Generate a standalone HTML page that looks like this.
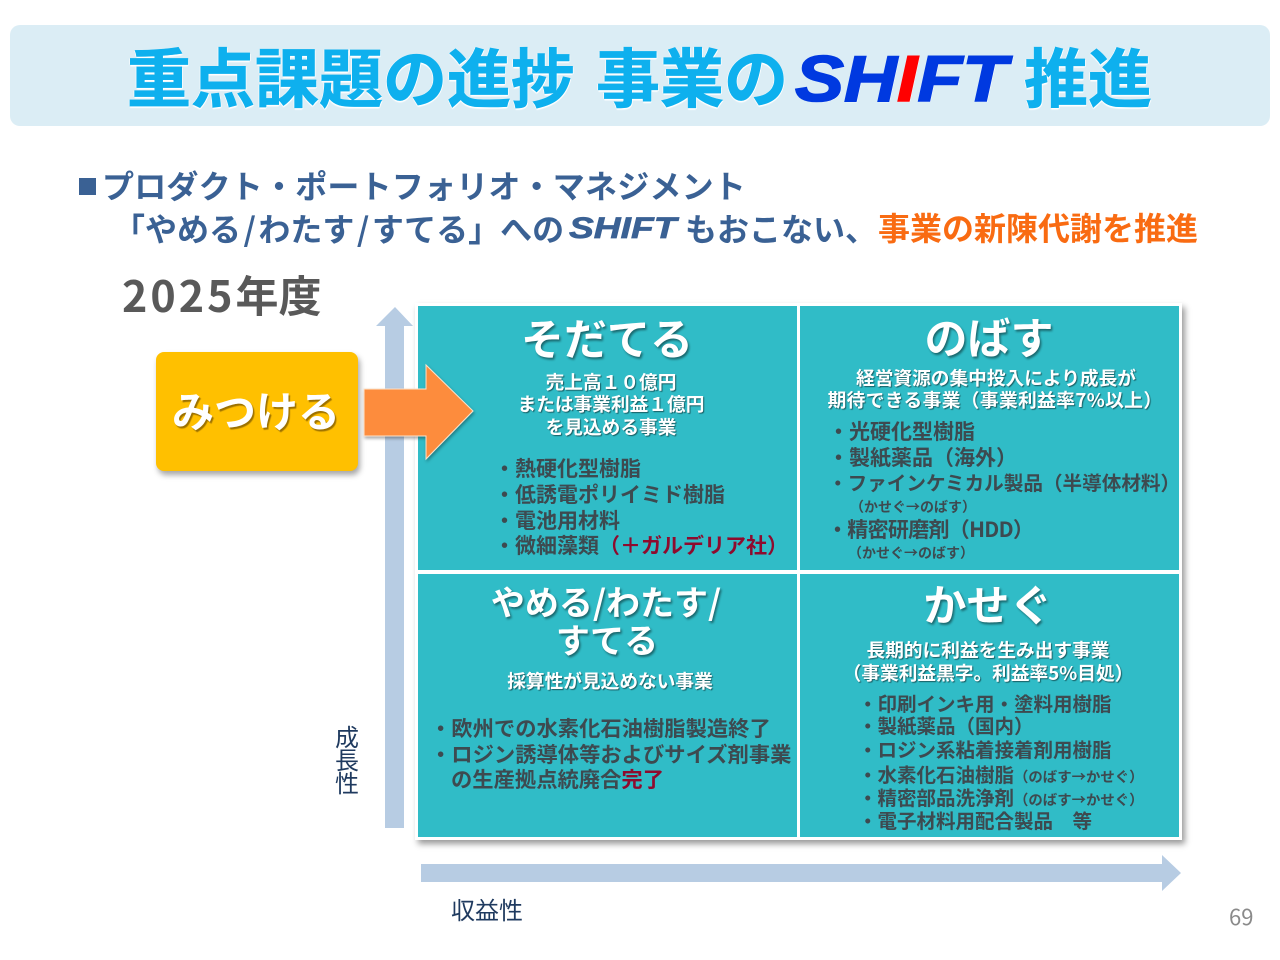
<!DOCTYPE html>
<html lang="ja"><head><meta charset="utf-8">
<style>
html,body{margin:0;padding:0;background:#fff}
#p{position:relative;width:1280px;height:960px;overflow:hidden;background:#fff;font-family:"Liberation Sans","Noto Sans CJK JP",sans-serif}
.t{position:absolute;white-space:nowrap;line-height:1;font-family:"Noto Sans CJK JP",sans-serif;font-weight:700}
.c{transform:translateX(-50%)}
.box{position:absolute;background:#30bcc7}
.h{font-size:64px;color:#0eb0ee;-webkit-text-stroke:.7px #0eb0ee;text-shadow:1px 1px 0 #fff,-1px 0 0 #fff,0 2px 1px #fff}
.s{font-size:32px;color:#3a6194;font-weight:700}
.w{color:#fff;font-weight:700;text-shadow:1.5px 2px 2px rgba(0,0,0,.45)}
.b{font-size:18.7px;color:#fff;font-weight:700;text-shadow:1px 1px 1px rgba(0,0,0,.5)}
.i{color:#3d4a50;font-weight:700}
.r{color:#8e0b2e}
.sm{font-weight:700}
.sl{margin:0 2.5px}
</style></head><body><div id="p">

<div style="position:absolute;left:10px;top:25px;width:1260px;height:101px;background:#dbedf5;border-radius:10px"></div>
<div class="t h" style="left:127px;top:43px">重点課題の進捗</div>
<div class="t h" style="left:596px;top:43px">事業の</div>
<div class="t" style="left:795px;top:46px;font:italic 700 65px/1 'Liberation Sans',sans-serif;color:#0039e0;-webkit-text-stroke:1.6px #0039e0;transform:scaleX(1.13);transform-origin:left;text-shadow:1px 1px 0 #fff">SH<span style="color:#f00;-webkit-text-stroke:1.6px #f00">I</span>FT</div>
<div class="t h" style="left:1024px;top:43px">推進</div>

<div style="position:absolute;left:79px;top:178px;width:17px;height:17px;background:#3a6194"></div>
<div class="t s" style="left:102px;top:169px;letter-spacing:.2px">プロダクト・ポートフォリオ・マネジメント</div>
<div class="t s" style="left:113px;top:212px">「やめる<span class="sl">/</span>わたす<span class="sl">/</span>すてる」への</div>
<div class="t" style="left:569px;top:214px;font:italic 700 30px/1 'Liberation Sans',sans-serif;color:#3a6194;-webkit-text-stroke:.7px #3a6194;transform:scaleX(1.24);transform-origin:left">SHIFT</div>
<div class="t s" style="left:685px;top:212px">もおこない、</div>
<div class="t s" style="left:878px;top:211px;color:#f96b12">事業の新陳代謝を推進</div>

<div class="t" style="left:122px;top:273px;font-size:43px;color:#595959"><span style="letter-spacing:3px">2025</span>年度</div>

<svg style="position:absolute;left:0;top:0" width="1280" height="960">
<polygon points="395,307 413,326 404,326 404,828 385,828 385,326 376,326" fill="#b7cce3"/>
<polygon points="421,864 1162,864 1162,855 1181,873 1162,891 1162,882 421,882" fill="#b7cce3"/>
</svg>

<div style="position:absolute;left:415px;top:303px;width:767px;height:537px;background:#fff;box-shadow:3px 4px 6px rgba(0,0,0,.4)"></div>
<div class="box" style="left:418px;top:306px;width:379px;height:264px"></div>
<div class="box" style="left:800px;top:306px;width:379px;height:264px"></div>
<div class="box" style="left:418px;top:574px;width:379px;height:263px"></div>
<div class="box" style="left:800px;top:574px;width:379px;height:263px"></div>

<div style="position:absolute;left:156px;top:352px;width:202px;height:119px;background:#ffc000;border-radius:8px;box-shadow:2px 4px 6px rgba(0,0,0,.35)"></div>
<div class="t c" style="left:256px;top:389px;font-size:42px;color:#fff;font-weight:700;text-shadow:1.5px 2px 1px rgba(90,60,0,.6)">みつける</div>

<svg style="position:absolute;left:0;top:0" width="1280" height="960">
<defs><filter id="f" x="-20%" y="-20%" width="140%" height="140%"><feDropShadow dx="1" dy="2" stdDeviation="1.5" flood-color="#000" flood-opacity=".35"/></filter></defs>
<polygon points="364,389 426,389 426,365 473,411 426,459 426,436 364,436" fill="#fd8c3d" stroke="#fde3cc" stroke-width="1" filter="url(#f)"/>
</svg>

<div class="t c w" style="left:607px;top:316px;font-size:43px">そだてる</div>
<div class="t c b" style="left:611px;top:373px">売上高１０億円</div>
<div class="t c b" style="left:611px;top:395px">または事業利益１億円</div>
<div class="t c b" style="left:611px;top:418px">を見込める事業</div>
<div class="t i" style="left:494px;top:458px;font-size:21px">・熱硬化型樹脂</div>
<div class="t i" style="left:494px;top:484px;font-size:21px">・低誘電ポリイミド樹脂</div>
<div class="t i" style="left:494px;top:510px;font-size:21px">・電池用材料</div>
<div class="t i" style="left:494px;top:535px;font-size:21px">・微細藻類<span class="r">（＋ガルデリア社）</span></div>

<div class="t c w" style="left:989px;top:315px;font-size:43px">のばす</div>
<div class="t c b" style="left:996px;top:369px">経営資源の集中投入により成長が</div>
<div class="t c b" style="left:995px;top:391px;letter-spacing:.4px">期待できる事業（事業利益率7%以上）</div>
<div class="t i" style="left:828px;top:421px;font-size:21px">・光硬化型樹脂</div>
<div class="t i" style="left:828px;top:447px;font-size:21px">・製紙薬品（海外）</div>
<div class="t i" style="left:828px;top:472px;font-size:19.6px">・ファインケミカル製品（半導体材料）</div>
<div class="t i sm" style="left:850px;top:500px;font-size:14px">（かせぐ→のばす）</div>
<div class="t i" style="left:827px;top:519px;font-size:21px;letter-spacing:-.7px">・精密研磨剤（HDD）</div>
<div class="t i sm" style="left:848px;top:546px;font-size:14px">（かせぐ→のばす）</div>

<div class="t c w" style="left:606px;top:584px;font-size:34px">やめる/わたす/</div>
<div class="t c w" style="left:607px;top:622px;font-size:34px">すてる</div>
<div class="t c b" style="left:610px;top:672px">採算性が見込めない事業</div>
<div class="t i" style="left:430px;top:717px;font-size:21.3px">・欧州での水素化石油樹脂製造終了</div>
<div class="t i" style="left:430px;top:743px;font-size:21.3px">・ロジン誘導体等およびサイズ剤事業</div>
<div class="t i" style="left:451px;top:768px;font-size:21.3px">の生産拠点統廃合<span class="r">完了</span></div>

<div class="t c w" style="left:988px;top:582px;font-size:43px">かせぐ</div>
<div class="t c b" style="left:988px;top:641px">長期的に利益を生み出す事業</div>
<div class="t c b" style="left:988px;top:664px">（事業利益黒字。利益率5%目処）</div>
<div class="t i" style="left:858px;top:693px;font-size:19.5px">・印刷インキ用・塗料用樹脂</div>
<div class="t i" style="left:858px;top:715px;font-size:19.5px">・製紙薬品（国内）</div>
<div class="t i" style="left:858px;top:739px;font-size:19.5px">・ロジン系粘着接着剤用樹脂</div>
<div class="t i" style="left:858px;top:764px;font-size:19.5px">・水素化石油樹脂<span class="sm" style="font-size:14.4px">（のばす→かせぐ）</span></div>
<div class="t i" style="left:858px;top:787px;font-size:19.5px">・精密部品洗浄剤<span class="sm" style="font-size:14.4px">（のばす→かせぐ）</span></div>
<div class="t i" style="left:858px;top:810px;font-size:19.5px">・電子材料用配合製品　等</div>

<div class="t c" style="left:347px;top:724px;font-size:24px;font-weight:400;color:#1f3a5f">成</div>
<div class="t c" style="left:347px;top:747px;font-size:24px;font-weight:400;color:#1f3a5f">長</div>
<div class="t c" style="left:347px;top:770px;font-size:24px;font-weight:400;color:#1f3a5f">性</div>
<div class="t" style="left:451px;top:897px;font-size:24px;font-weight:400;color:#1f3a5f">収益性</div>
<div class="t" style="left:1229px;top:905px;font-size:22px;font-weight:400;color:#8a8a8a">69</div>

</div></body></html>
